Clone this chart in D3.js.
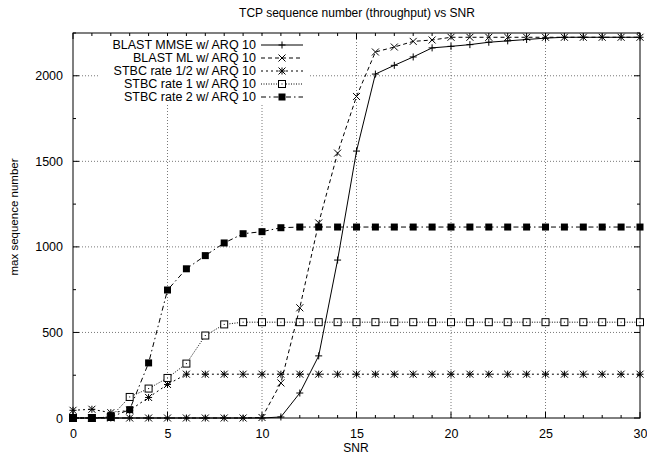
<!DOCTYPE html>
<head>
  <meta charset="utf-8">
  <title>TCP sequence number vs SNR</title>
  <script src="https://d3js.org/d3.v7.min.js"></script>
  <style>
    body { margin: 0; background: #fff; }
    text { font-family: "Liberation Sans", Arial, Helvetica, sans-serif; fill: #000; }
  </style>
</head>
<body>
  <div id="chart"></div>
  <script type="text/javascript">

    // SNR values (x axis)
    var snr = [0,1,2,3,4,5,6,7,8,9,10,11,12,13,14,15,16,17,18,19,20,21,22,23,24,25,26,27,28,29,30];

    // series values
    var blastMmse = [0,0,0,0,0,0,0,0,0,0,0,6,146,363,923,1560,2010,2061,2110,2163,2172,2182,2196,2204,2212,2220,2225,2225,2225,2225,2225];
    var blastMl   = [0,0,0,0,0,0,0,0,0,0,3,205,644,1140,1548,1879,2139,2168,2201,2209,2225,2225,2225,2225,2225,2225,2225,2225,2225,2225,2225];
    var stbcHalf  = [45,51,31,45,120,196,256,256,256,256,256,256,256,256,256,256,256,256,256,256,256,256,256,256,256,256,256,256,256,256,256];
    var stbcOne   = [0,0,6,123,172,234,318,482,547,560,560,560,560,560,560,560,560,560,560,560,560,560,560,560,560,560,560,560,560,560,560];
    var stbcTwo   = [0,0,5,49,322,748,872,949,1023,1077,1089,1112,1116,1116,1116,1116,1116,1116,1116,1116,1116,1116,1116,1116,1116,1116,1116,1116,1116,1116,1116];

    var seriesNames = ['BLAST MMSE w/ ARQ 10', 'BLAST ML w/ ARQ 10', 'STBC rate 1/2 w/ ARQ 10',
                       'STBC rate 1 w/ ARQ 10', 'STBC rate 2 w/ ARQ 10'];

    // tick values
    var xTicks = [0,5,10,15,20,25,30];
    var yTicks = [0,500,1000,1500,2000];

    var series = [
      { name: seriesNames[0], values: blastMmse, dash: null,        marker: 'plus' },
      { name: seriesNames[1], values: blastMl,   dash: '4,3',       marker: 'cross' },
      { name: seriesNames[2], values: stbcHalf,  dash: '2,3',       marker: 'star' },
      { name: seriesNames[3], values: stbcOne,   dash: '1,1.5',     marker: 'box' },
      { name: seriesNames[4], values: stbcTwo,   dash: '5,3,1.5,3', marker: 'fbox' }
    ];

    var width = 647, height = 460;
    var margin = { top: 33, right: 7, bottom: 42, left: 73 };
    var w = width - margin.left - margin.right;
    var h = height - margin.top - margin.bottom;

    var x = d3.scaleLinear().domain([0, 30]).range([0, w]);
    var y = d3.scaleLinear().domain([0, 2250]).range([h, 0]);

    var svg = d3.select('#chart').append('svg')
      .attr('width', width).attr('height', height);

    // title and axis labels
    svg.append('text').attr('x', 357).attr('y', 17).attr('text-anchor', 'middle')
      .style('font-size', '12px').text('TCP sequence number (throughput) vs SNR');
    svg.append('text').attr('x', 356).attr('y', 452).attr('text-anchor', 'middle')
      .style('font-size', '12px').text('SNR');
    svg.append('text').attr('transform', 'translate(14,' + 217 + ') rotate(-90)')
      .attr('text-anchor', 'middle').attr('dy', '0.35em').style('font-size', '11.5px').text('max sequence number');

    var g = svg.append('g').attr('transform', 'translate(' + margin.left + ',' + margin.top + ')');

    // dotted grid at major ticks
    g.selectAll('.gx').data(xTicks.slice(1, -1)).enter().append('line')
      .attr('x1', x).attr('x2', x).attr('y1', 0).attr('y2', h)
      .attr('stroke', '#555').attr('stroke-width', 0.8).attr('stroke-dasharray', '1,2');
    g.selectAll('.gy').data(yTicks.slice(1)).enter().append('line')
      .attr('y1', y).attr('y2', y).attr('x1', 0).attr('x2', w)
      .attr('stroke', '#555').attr('stroke-width', 0.8).attr('stroke-dasharray', '1,2');

    // axes: ticks point inward, mirrored on all sides
    var xMinor = d3.range(0, 31, 1);
    var yMinor = d3.range(0, 2251, 250);
    function isMajorX(d) { return d % 5 === 0; }
    function isMajorY(d) { return d % 500 === 0; }

    var bottom = g.append('g').attr('transform', 'translate(0,' + h + ')')
      .call(d3.axisBottom(x).tickValues(xMinor).tickSizeInner(0).tickSizeOuter(0).tickPadding(11)
        .tickFormat(function(d) { return isMajorX(d) ? d : ''; }));
    bottom.selectAll('text').style('font-size', '12.5px');
    var left = g.append('g')
      .call(d3.axisLeft(y).tickValues(yTicks).tickSizeInner(0).tickSizeOuter(0).tickPadding(10)
        .tickFormat(d3.format('d')));
    left.selectAll('text').style('font-size', '12.5px');
    g.selectAll('.domain').remove();

    var tickG = g.append('g').attr('stroke', '#000').attr('stroke-width', 1);
    xMinor.forEach(function(d) {
      var len = isMajorX(d) ? 6 : 3;
      tickG.append('line').attr('x1', x(d)).attr('x2', x(d)).attr('y1', h).attr('y2', h - len);
      tickG.append('line').attr('x1', x(d)).attr('x2', x(d)).attr('y1', 0).attr('y2', len);
    });
    yMinor.forEach(function(d) {
      var len = isMajorY(d) ? 6 : 3;
      tickG.append('line').attr('y1', y(d)).attr('y2', y(d)).attr('x1', 0).attr('x2', len);
      tickG.append('line').attr('y1', y(d)).attr('y2', y(d)).attr('x1', w).attr('x2', w - len);
    });

    g.append('rect').attr('width', w).attr('height', h)
      .attr('fill', 'none').attr('stroke', '#000').attr('stroke-width', 1);

    // marker drawing
    function drawMarker(sel, type, cx, cy) {
      var s = 3.5;
      if (type === 'plus' || type === 'star') {
        sel.append('path').attr('d', 'M' + (cx - s) + ',' + cy + 'H' + (cx + s) + 'M' + cx + ',' + (cy - s) + 'V' + (cy + s))
          .attr('stroke', '#000').attr('stroke-width', 1).attr('fill', 'none');
      }
      if (type === 'cross' || type === 'star') {
        sel.append('path').attr('d', 'M' + (cx - s) + ',' + (cy - s) + 'L' + (cx + s) + ',' + (cy + s) +
            'M' + (cx - s) + ',' + (cy + s) + 'L' + (cx + s) + ',' + (cy - s))
          .attr('stroke', '#000').attr('stroke-width', 1).attr('fill', 'none');
      }
      if (type === 'box') {
        sel.append('rect').attr('x', cx - 3.5).attr('y', cy - 3.5).attr('width', 7).attr('height', 7)
          .attr('fill', '#fff').attr('stroke', '#000').attr('stroke-width', 1);
        sel.append('rect').attr('x', cx - 0.5).attr('y', cy - 0.5).attr('width', 1).attr('height', 1).attr('fill', '#000');
      }
      if (type === 'fbox') {
        sel.append('rect').attr('x', cx - 3.5).attr('y', cy - 3.5).attr('width', 7).attr('height', 7)
          .attr('fill', '#000');
      }
    }

    var line = d3.line()
      .x(function(d, i) { return x(snr[i]); })
      .y(function(d) { return y(d); });

    series.forEach(function(s) {
      g.append('path').datum(s.values).attr('d', line)
        .attr('fill', 'none').attr('stroke', '#000').attr('stroke-width', 1)
        .attr('stroke-dasharray', s.dash);
    });
    series.forEach(function(s) {
      var mg = g.append('g');
      s.values.forEach(function(v, i) { drawMarker(mg, s.marker, x(snr[i]), y(v)); });
    });

    // legend (opaque box, no border)
    var legend = svg.append('g');
    legend.append('rect').attr('x', 100).attr('y', 36).attr('width', 210).attr('height', 67).attr('fill', '#fff');
    series.forEach(function(s, i) {
      var ly = 45 + i * 13;
      legend.append('text').attr('x', 256).attr('y', ly).attr('dy', '0.35em').attr('text-anchor', 'end')
        .style('font-size', '12.5px').text(s.name);
      legend.append('line').attr('x1', 261).attr('x2', 303).attr('y1', ly).attr('y2', ly)
        .attr('stroke', '#000').attr('stroke-width', 1).attr('stroke-dasharray', s.dash);
      drawMarker(legend, s.marker, 282, ly);
    });
  </script>
</body>
